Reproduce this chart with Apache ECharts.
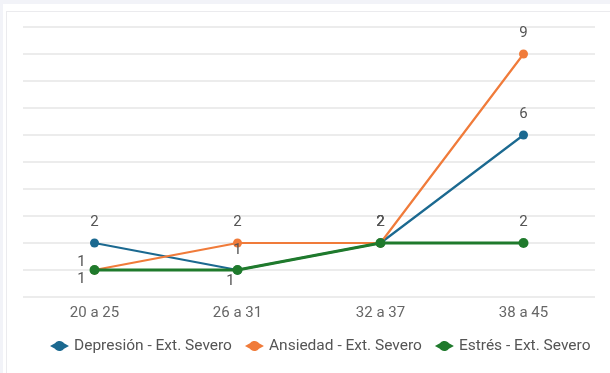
<!DOCTYPE html>
<html>
<head>
<meta charset="utf-8">
<script src="https://cdn.jsdelivr.net/npm/echarts@6/dist/echarts.min.js"></script>
<style>
  html, body { margin: 0; padding: 0; width: 610px; height: 373px; overflow: hidden; background: #f2f3f8; }
  #card { position: absolute; left: 3px; top: 4px; width: 607px; height: 369px; background: #ffffff; }
  #frame { position: absolute; left: 6px; top: 11px; width: 620px; height: 380px; border: 1px solid #ebebee; box-sizing: border-box; }
  #chart { position: absolute; left: 0; top: 0; width: 610px; height: 373px; }
</style>
</head>
<body>
<div id="card"></div>
<div id="frame"></div>
<div id="chart"></div>
<script>
// Age groups and counts of extremely severe cases per scale
const categories = ['20 a 25', '26 a 31', '32 a 37', '38 a 45'];
const depresion = [2, 1, 2, 6];
const ansiedad = [1, 2, 2, 9];
const estres = [1, 1, 2, 2];

const seriesNames = ['Depresión - Ext. Severo', 'Ansiedad - Ext. Severo', 'Estrés - Ext. Severo'];
const colors = ['#1b6990', '#f07b3a', '#1f7a2c'];

// Legend marker: a dot on a short, thick tapered stroke
const legendIcon = 'path://M0,5.5 L5,2.8 A5.5,5.5 0 0 1 14,2.8 L19,5.5 L14,8.2 A5.5,5.5 0 0 1 5,8.2 Z';

// Value labels sit above each point; a few are nudged aside where points coincide
const labelShift = {
  0: { 1: [0, -20] },
  1: { 0: [-13, -8] },
  2: { 0: [-13, 9], 1: [-7, 11] }
};

function buildData(values, sIdx) {
  return values.map((v, i) => {
    const off = (labelShift[sIdx] && labelShift[sIdx][i]) || [0, -21];
    return { value: v, label: { offset: off } };
  });
}

const labelStyle = {
  show: true,
  position: 'inside',
  color: '#555555',
  fontFamily: 'Roboto',
  fontSize: 15
};

const chart = echarts.init(document.getElementById('chart'), null, { renderer: 'canvas' });
chart.setOption({
  animation: false,
  backgroundColor: 'transparent',
  color: colors,
  grid: { left: 23, right: 15, top: 27, bottom: 76, containLabel: false },
  legend: {
    left: 45,
    bottom: 14,
    itemWidth: 19,
    itemHeight: 11,
    itemGap: 13,
    textStyle: { color: '#555555', fontFamily: 'Roboto', fontSize: 15.5 },
    data: seriesNames.map(n => ({ name: n, icon: legendIcon }))
  },
  xAxis: {
    type: 'category',
    data: categories,
    boundaryGap: true,
    axisLine: { show: false },
    axisTick: { show: false },
    axisLabel: { color: '#666666', fontFamily: 'Roboto', fontSize: 15, margin: 9 }
  },
  yAxis: {
    type: 'value',
    min: 0,
    max: 10,
    interval: 1,
    axisLabel: { show: false },
    axisLine: { show: false },
    axisTick: { show: false },
    splitLine: { lineStyle: { color: '#e6e6e6', width: 1.6 } }
  },
  series: [
    {
      name: seriesNames[0], type: 'line', data: buildData(depresion, 0),
      symbol: 'circle', symbolSize: 9,
      lineStyle: { width: 2.2 }, label: labelStyle
    },
    {
      name: seriesNames[1], type: 'line', data: buildData(ansiedad, 1),
      symbol: 'circle', symbolSize: 9,
      lineStyle: { width: 2.2 }, label: labelStyle
    },
    {
      name: seriesNames[2], type: 'line', data: buildData(estres, 2),
      symbol: 'circle', symbolSize: 10,
      lineStyle: { width: 3 }, label: labelStyle
    }
  ]
});
</script>
</body>
</html>
